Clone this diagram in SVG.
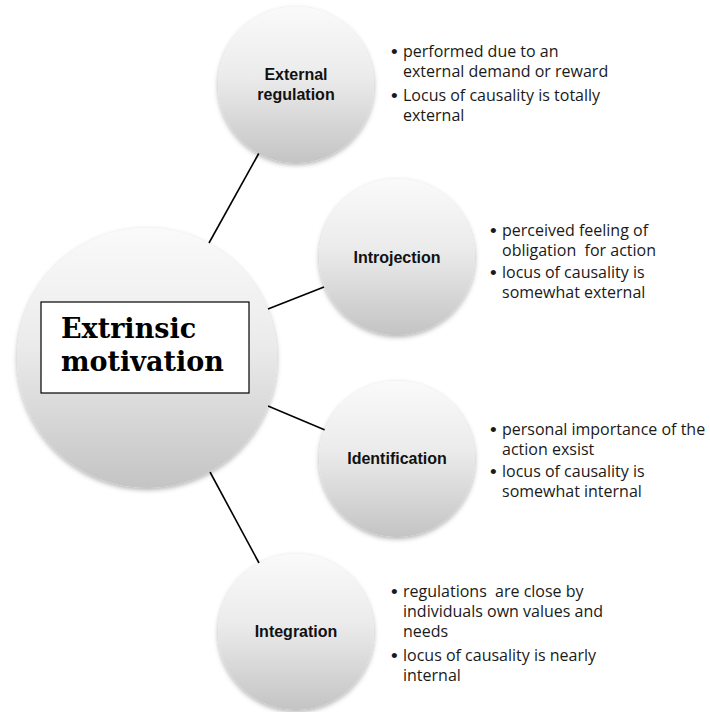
<svg xmlns="http://www.w3.org/2000/svg" width="710" height="712" viewBox="0 0 710 712">
<defs>
<linearGradient id="g" x1="0" y1="0" x2="0" y2="1">
<stop offset="0" stop-color="#fafafa"/>
<stop offset="0.45" stop-color="#ebebeb"/>
<stop offset="1" stop-color="#c4c4c4"/>
</linearGradient>
<filter id="sh" x="-20%" y="-20%" width="140%" height="140%">
<feDropShadow dx="0" dy="2" stdDeviation="2.5" flood-color="#000" flood-opacity="0.3"/>
</filter>
<style>
.c{fill:url(#g);filter:url(#sh);}
.lbl{font-family:"Liberation Sans",Arial,sans-serif;font-weight:bold;font-size:16px;fill:#111;text-anchor:middle;}
.b{font-family:"Open Sans","Liberation Sans",sans-serif;font-size:16px;fill:#1a1a1a;white-space:pre;}
.d{font-family:"Liberation Sans",Arial,sans-serif;font-size:19px;fill:#1a1a1a;}
.conn line{stroke:#000;stroke-width:1.6;}
.main{font-family:"DejaVu Serif",Georgia,serif;font-weight:bold;font-size:27px;fill:#000;}
</style>
</defs>
<rect width="710" height="712" fill="#fff"/>
<g id="connectors" class="conn">
<line x1="209" y1="243" x2="259" y2="153"/>
<line x1="268" y1="309" x2="324" y2="287"/>
<line x1="268" y1="406" x2="325" y2="430"/>
<line x1="210" y1="472" x2="259" y2="563"/>
</g>
<g id="main">
<circle class="c" cx="147" cy="358" r="130"/>
<rect x="41" y="302" width="208" height="91" fill="#fff" stroke="#000" stroke-width="1.2"/>
<text class="main" x="61" y="338">Extrinsic</text>
<text class="main" x="61" y="371">motivation</text>
</g>
<g id="external-regulation">
<circle class="c" cx="296" cy="85" r="78"/>
<text class="lbl" x="296" y="80">External</text>
<text class="lbl" x="296" y="100">regulation</text>
<text class="d" x="391" y="58">•</text>
<text class="b" x="403" y="57">performed due to an</text>
<text class="b" x="403" y="77">external demand or reward</text>
<text class="d" x="391" y="102">•</text>
<text class="b" x="403" y="101">Locus of causality is totally</text>
<text class="b" x="403" y="121">external</text>
</g>
<g id="introjection">
<circle class="c" cx="397" cy="257" r="78"/>
<text class="lbl" x="397" y="263">Introjection</text>
<text class="d" x="490" y="237">•</text>
<text class="b" x="502" y="236">perceived feeling of</text>
<text class="b" x="502" y="256">obligation  for action</text>
<text class="d" x="490" y="279">•</text>
<text class="b" x="502" y="278">locus of causality is</text>
<text class="b" x="502" y="298">somewhat external</text>
</g>
<g id="identification">
<circle class="c" cx="397" cy="459" r="78"/>
<text class="lbl" x="397" y="464">Identification</text>
<text class="d" x="490" y="436">•</text>
<text class="b" x="502" y="435">personal importance of the</text>
<text class="b" x="502" y="455">action exsist</text>
<text class="d" x="490" y="478">•</text>
<text class="b" x="502" y="477">locus of causality is</text>
<text class="b" x="502" y="497">somewhat internal</text>
</g>
<g id="integration">
<circle class="c" cx="296" cy="632" r="78"/>
<text class="lbl" x="296" y="637">Integration</text>
<text class="d" x="391" y="598">•</text>
<text class="b" x="403" y="597">regulations  are close by</text>
<text class="b" x="403" y="617">individuals own values and</text>
<text class="b" x="403" y="637">needs</text>
<text class="d" x="391" y="662">•</text>
<text class="b" x="403" y="661">locus of causality is nearly</text>
<text class="b" x="403" y="681">internal</text>
</g>
</svg>
